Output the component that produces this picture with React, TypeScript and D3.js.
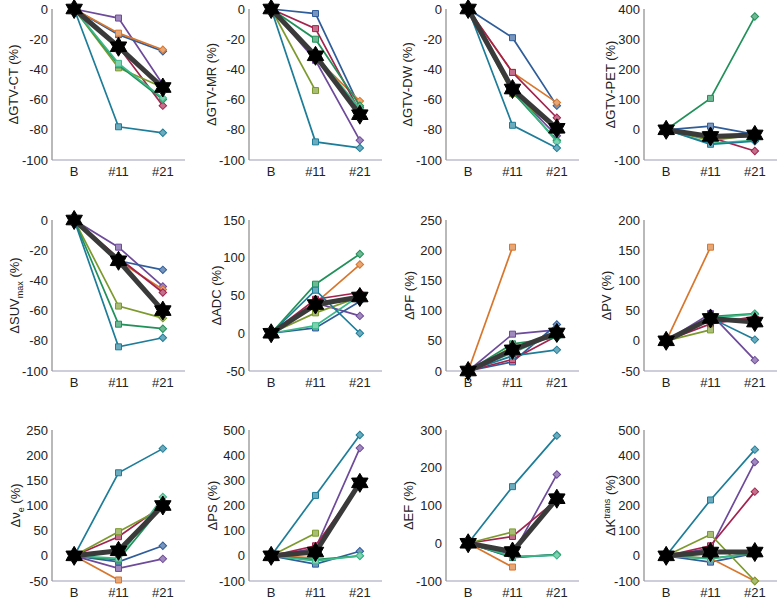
import React from "react";
import * as d3 from "d3";

type V = number | null;

const timepoints = ["B", "#11", "#21"];

// patient order: purple, blue, orange, crimson, olive, green, turquoise, teal
const gtvCT: V[][] = [
  [0, -6, -50], [0, -17, -28], [0, -16, -27], [0, -25, -64],
  [0, -39, -52], [0, -37, -60], [0, -36, -59], [0, -78, -82],
];
const gtvCTMedian: V[] = [0, -25, -52];

const gtvMR: V[][] = [
  [0, -34, -87], [0, -3, -65], [0, -32, -61], [0, -13, -68],
  [0, -54, null], [0, -20, -64], [0, -30, -66], [0, -88, -92],
];
const gtvMRMedian: V[] = [0, -31, -70];

const gtvDW: V[][] = [
  [0, -54, -84], [0, -19, -64], [0, -42, -62], [0, -42, -72],
  [0, -56, -80], [0, -55, -87], [0, -53, -88], [0, -77, -92],
];
const gtvDWMedian: V[] = [0, -53, -79];

const gtvPET: V[][] = [
  [0, -20, -20], [0, 12, -15], [0, -30, -15], [0, -25, -70],
  [0, -35, -18], [0, 104, 375], [0, -45, -35], [0, -48, -38],
];
const gtvPETMedian: V[] = [0, -22, -17];

const suvMax: V[][] = [
  [0, -18, -44], [0, -27, -33], [0, -27, -46], [0, -25, -48],
  [0, -57, -65], [0, -69, -72], [0, -28, -60], [0, -84, -78],
];
const suvMaxMedian: V[] = [0, -27, -60];

const adc: V[][] = [
  [0, 40, 23], [0, 7, 42], [0, 40, 91], [0, 45, 54],
  [0, 27, 48], [0, 65, 105], [0, 10, 50], [0, 57, 0],
];
const adcMedian: V[] = [0, 38, 48];

const pf: V[][] = [
  [0, 61, 68], [0, 15, 77], [0, 205, null], [0, 19, 58],
  [0, 40, 60], [0, 45, 55], [0, 30, 62], [0, 25, 35],
];
const pfMedian: V[] = [0, 35, 63];

const pv: V[][] = [
  [0, 45, -32], [0, 35, 30], [0, 155, null], [0, 28, 40],
  [0, 18, null], [0, 40, 45], [0, 38, 44], [0, 38, 2],
];
const pvMedian: V[] = [0, 37, 31];

const ve: V[][] = [
  [0, -25, -6], [0, -12, 20], [0, -48, null], [0, 38, 100],
  [0, 48, 95], [0, -8, 100], [0, -5, 117], [0, 165, 213],
];
const veMedian: V[] = [0, 10, 100];

const ps: V[][] = [
  [0, 30, 428], [0, -33, 18], [0, -8, null], [0, 40, 285],
  [0, 90, null], [0, -15, 0], [0, -20, 0], [0, 240, 480],
];
const psMedian: V[] = [0, 15, 290];

const ef: V[][] = [
  [0, -30, 182], [0, -38, -30], [0, -63, null], [0, 18, 115],
  [0, 30, null], [0, -37, -30], [0, -35, -32], [0, 150, 285],
];
const efMedian: V[] = [0, -22, 118];

const ktrans: V[][] = [
  [0, 30, 373], [0, -25, 10], [0, -10, -100], [0, 40, 255],
  [0, 85, -100], [0, -10, 10], [0, -12, 12], [0, 222, 422],
];
const ktransMedian: V[] = [0, 15, 15];

const ticksGTV = [-100, -80, -60, -40, -20, 0];
const ticksPET = [-100, 0, 100, 200, 300, 400];
const ticksADC = [-50, 0, 50, 100, 150];
const ticksPF = [0, 50, 100, 150, 200, 250];
const ticksPV = [-50, 0, 50, 100, 150, 200];
const ticksVe = [-50, 0, 50, 100, 150, 200, 250];
const ticksPS = [-100, 0, 100, 200, 300, 400, 500];
const ticksEF = [-100, 0, 100, 200, 300];

const patientColors = [
  "#6D4A9A", "#2F5D9A", "#D8762C", "#A3234F",
  "#7C9A2C", "#21915A", "#3CB889", "#1D7D99",
];

type Label = { main: string; sub?: string; sup?: string };

const panels: { label: Label; data: V[][]; median: V[]; ticks: number[]; labelOffset: number }[] = [
  { label: { main: "ΔGTV-CT" }, data: gtvCT, median: gtvCTMedian, ticks: ticksGTV, labelOffset: 38 },
  { label: { main: "ΔGTV-MR" }, data: gtvMR, median: gtvMRMedian, ticks: ticksGTV, labelOffset: 37 },
  { label: { main: "ΔGTV-DW" }, data: gtvDW, median: gtvDWMedian, ticks: ticksGTV, labelOffset: 38 },
  { label: { main: "ΔGTV-PET" }, data: gtvPET, median: gtvPETMedian, ticks: ticksPET, labelOffset: 33 },
  { label: { main: "ΔSUV", sub: "max" }, data: suvMax, median: suvMaxMedian, ticks: ticksGTV, labelOffset: 37 },
  { label: { main: "ΔADC" }, data: adc, median: adcMedian, ticks: ticksADC, labelOffset: 32 },
  { label: { main: "ΔPF" }, data: pf, median: pfMedian, ticks: ticksPF, labelOffset: 36 },
  { label: { main: "ΔPV" }, data: pv, median: pvMedian, ticks: ticksPV, labelOffset: 37 },
  { label: { main: "Δν", sub: "e" }, data: ve, median: veMedian, ticks: ticksVe, labelOffset: 36 },
  { label: { main: "ΔPS" }, data: ps, median: psMedian, ticks: ticksPS, labelOffset: 36 },
  { label: { main: "ΔEF" }, data: ef, median: efMedian, ticks: ticksEF, labelOffset: 37 },
  { label: { main: "ΔK", sup: "trans" }, data: ktrans, median: ktransMedian, ticks: ticksPS, labelOffset: 33 },
];

const colLefts = [52, 249, 446, 644];
const rowTops = [9, 220, 430];
const plotW = 133;
const plotH = 151;
const FONT = "'Liberation Sans', Arial, sans-serif";

function hexagram(R: number, r: number): string {
  const pts: [number, number][] = [];
  for (let k = 0; k < 12; k++) {
    const a = -Math.PI / 2 + (k * Math.PI) / 6;
    const rad = k % 2 === 0 ? R : r;
    pts.push([rad * Math.cos(a), rad * Math.sin(a)]);
  }
  return d3.line().curve(d3.curveLinearClosed)(pts) || "";
}

const squarePath = d3.symbol(d3.symbolSquare, 36)() || "";
const diamondPath = d3.symbol(d3.symbolSquare, 28)() || "";
const starPath = hexagram(9.5, 5.6);

function YLabel({ label, x, y }: { label: Label; x: number; y: number }) {
  return (
    <text
      transform={`translate(${x},${y}) rotate(-90)`}
      textAnchor="middle"
      fontFamily={FONT}
      fontSize={13}
      fill="#222"
    >
      <tspan>{label.main}</tspan>
      {label.sub && (
        <tspan fontSize={9} dy={4}>
          {label.sub}
        </tspan>
      )}
      {label.sup && (
        <tspan fontSize={9} dy={-5}>
          {label.sup}
        </tspan>
      )}
      <tspan dy={label.sub ? -4 : label.sup ? 5 : 0}>{" (%)"}</tspan>
    </text>
  );
}

function Panel({ idx }: { idx: number }) {
  const p = panels[idx];
  const left = colLefts[idx % 4];
  const top = rowTops[Math.floor(idx / 4)];
  const ext = d3.extent(p.ticks) as [number, number];
  const y = d3.scaleLinear().domain(ext).range([top + plotH, top]);
  const x = d3.scalePoint<string>().domain(timepoints).range([left + plotW / 6, left + (plotW * 5) / 6]);
  const line = d3
    .line<V>()
    .defined((d) => d !== null)
    .x((_, i) => x(timepoints[i]) as number)
    .y((d) => y(d as number));

  return (
    <g>
      <line x1={left} x2={left} y1={top} y2={top + plotH} stroke="#8a8a8a" strokeWidth={1.2} />
      <line x1={left} x2={left + plotW} y1={top + plotH} y2={top + plotH} stroke="#9d9db5" strokeWidth={1.2} />
      {p.ticks.map((t) => (
        <text
          key={t}
          x={left - 4}
          y={y(t)}
          dy="0.35em"
          textAnchor="end"
          fontFamily={FONT}
          fontSize={13}
          fill="#222"
        >
          {t}
        </text>
      ))}
      {timepoints.map((t) => (
        <text
          key={t}
          x={x(t)}
          y={top + plotH + 15.5}
          textAnchor="middle"
          fontFamily={FONT}
          fontSize={13}
          fill="#222"
        >
          {t}
        </text>
      ))}
      <YLabel label={p.label} x={left - p.labelOffset + 4} y={top + plotH / 2} />

      {p.data.map((row, pi) => {
        const c = patientColors[pi];
        const fill = d3.interpolateRgb(c, "#ffffff")(0.35);
        return (
          <g key={pi}>
            <path d={line(row) || ""} fill="none" stroke={c} strokeWidth={1.7} />
            {row.map((v, ti) => {
              if (v === null || ti === 0) return null;
              const cx = x(timepoints[ti]) as number;
              const cy = y(v);
              return ti === 1 ? (
                <path key={ti} d={squarePath} transform={`translate(${cx},${cy})`} fill={fill} stroke={c} strokeWidth={1} />
              ) : (
                <path key={ti} d={diamondPath} transform={`translate(${cx},${cy}) rotate(45)`} fill={fill} stroke={c} strokeWidth={1} />
              );
            })}
          </g>
        );
      })}

      <path d={line(p.median) || ""} fill="none" stroke="#3a3a3a" strokeWidth={5} strokeLinejoin="round" />
      {p.median.map((v, ti) =>
        v === null ? null : (
          <path
            key={ti}
            d={starPath}
            transform={`translate(${x(timepoints[ti])},${y(v)})`}
            fill="#000"
            stroke="#000"
            strokeWidth={1}
          />
        )
      )}
    </g>
  );
}

export default function App() {
  return (
    <svg
      width={778}
      height={598}
      style={{ position: "absolute", left: 0, top: 0, background: "#fff" }}
    >
      <rect width={778} height={598} fill="#fff" />
      {panels.map((_, i) => (
        <Panel key={i} idx={i} />
      ))}
    </svg>
  );
}
